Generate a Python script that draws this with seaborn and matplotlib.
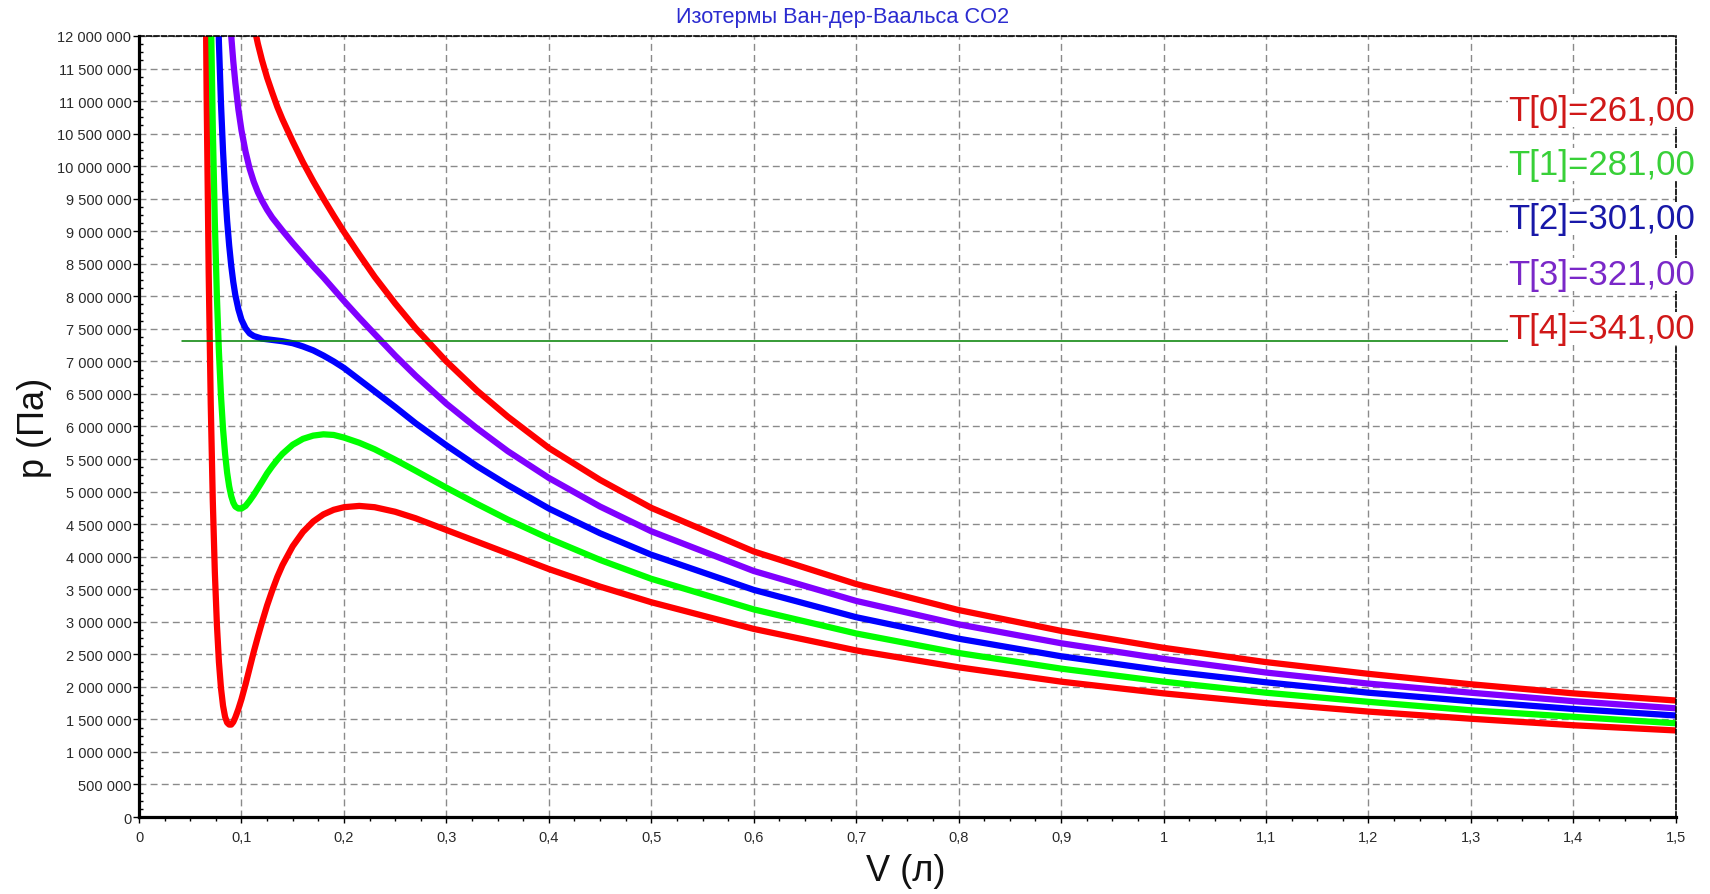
import numpy as np
import pandas as pd
import matplotlib
matplotlib.use('Agg')
import matplotlib.pyplot as plt
from matplotlib.ticker import MultipleLocator, FuncFormatter
import seaborn as sns

nan = np.nan

# объём, л
volume = [0.062, 0.064, 0.066, 0.068, 0.070, 0.072, 0.074, 0.076, 0.078, 0.080,
          0.082, 0.084, 0.086, 0.088, 0.090, 0.092, 0.094, 0.097, 0.100, 0.104,
          0.108, 0.112, 0.116, 0.120, 0.125, 0.130, 0.135, 0.140, 0.150, 0.160,
          0.170, 0.180, 0.190, 0.200, 0.215, 0.230, 0.250, 0.270, 0.300, 0.330,
          0.360, 0.400, 0.450, 0.500, 0.600, 0.700, 0.800, 0.900, 1.000, 1.100,
          1.200, 1.300, 1.400, 1.500]

# давление, МПа
p_261 = [nan, 14.78, 11.08, 8.36, 6.35, 4.86, 3.76, 2.96, 2.38, 1.98,
         1.71, 1.54, 1.45, 1.42, 1.42, 1.46, 1.53, 1.66, 1.81, 2.04,
         2.29, 2.54, 2.77, 2.99, 3.25, 3.48, 3.69, 3.87, 4.16, 4.38,
         4.54, 4.65, 4.72, 4.76, 4.78, 4.76, 4.69, 4.59, 4.41, 4.23,
         4.05, 3.81, 3.54, 3.30, 2.89, 2.56, 2.30, 2.08, 1.90, 1.75,
         1.62, 1.51, 1.41, 1.33]
p_281 = [nan, nan, nan, 15.01, 12.51, 10.59, 9.13, 8.00, 7.14, 6.47,
         5.96, 5.58, 5.29, 5.08, 4.93, 4.83, 4.77, 4.74, 4.74, 4.78,
         4.86, 4.95, 5.05, 5.15, 5.28, 5.39, 5.49, 5.58, 5.72, 5.81,
         5.86, 5.88, 5.87, 5.83, 5.75, 5.65, 5.49, 5.32, 5.06, 4.81,
         4.57, 4.28, 3.95, 3.66, 3.19, 2.82, 2.52, 2.28, 2.08, 1.91,
         1.77, 1.64, 1.54, 1.44]
p_301 = [nan, nan, nan, nan, nan, nan, 14.49, 13.04, 11.89, 10.96,
         10.23, 9.63, 9.16, 8.78, 8.47, 8.22, 8.02, 7.80, 7.64, 7.51,
         7.43, 7.39, 7.37, 7.35, 7.34, 7.33, 7.32, 7.31, 7.28, 7.23,
         7.17, 7.09, 7.00, 6.90, 6.72, 6.54, 6.30, 6.05, 5.71, 5.39,
         5.10, 4.74, 4.36, 4.03, 3.49, 3.07, 2.74, 2.47, 2.25, 2.07,
         1.91, 1.78, 1.66, 1.56]
p_321 = [nan, nan, nan, nan, nan, nan, nan, nan, nan, nan,
         nan, 13.69, 13.03, 12.47, 12.00, 11.61, 11.28, 10.87, 10.55, 10.22,
         9.96, 9.76, 9.60, 9.47, 9.33, 9.21, 9.11, 9.01, 8.82, 8.64,
         8.46, 8.29, 8.11, 7.93, 7.67, 7.42, 7.09, 6.78, 6.35, 5.97,
         5.62, 5.21, 4.77, 4.39, 3.78, 3.32, 2.96, 2.67, 2.43, 2.22,
         2.05, 1.91, 1.78, 1.67]
p_341 = [nan, nan, nan, nan, nan, nan, nan, nan, nan, nan,
         nan, nan, nan, nan, nan, nan, nan, nan, nan, 12.94,
         12.52, 12.17, 11.88, 11.63, 11.36, 11.13, 10.91, 10.72, 10.38, 10.06,
         9.77, 9.50, 9.24, 8.99, 8.64, 8.30, 7.89, 7.51, 7.00, 6.55,
         6.15, 5.67, 5.18, 4.75, 4.08, 3.58, 3.18, 2.86, 2.60, 2.38,
         2.20, 2.04, 1.90, 1.79]

labels = ['T[0]=261,00', 'T[1]=281,00', 'T[2]=301,00', 'T[3]=321,00', 'T[4]=341,00']
line_colors = ['#ff0000', '#00ff00', '#0000ff', '#8000ff', '#ff0000']
text_colors = ['#d01818', '#38d038', '#1818a8', '#7a28c8', '#d01818']

# горизонтальная линия
ref_p = 7.31
ref_v = [0.042, 1.336]

frames = []
for lab, p in zip(labels, [p_261, p_281, p_301, p_321, p_341]):
    frames.append(pd.DataFrame({'V': volume, 'p': np.array(p) * 1e6, 'T': lab}))
df = pd.concat(frames).dropna()

sns.set_style('white')
plt.rcParams['font.family'] = ['Liberation Sans', 'DejaVu Sans']

fig = plt.figure(figsize=(17.1, 8.95), dpi=100)
ax = fig.add_axes([0.0813, 0.086, 0.8987, 0.8727])

ax.grid(True, which='major', color='#8a8a8a', linestyle=(0, (5, 3)), linewidth=1.0)
ax.set_axisbelow(True)

sns.lineplot(data=df, x='V', y='p', hue='T', palette=dict(zip(labels, line_colors)),
             linewidth=4.5, estimator=None, sort=False, legend=False, ax=ax)

ax.plot(ref_v, [ref_p * 1e6] * 2, color='#008000', linewidth=1.1)

ax.set_xlim(0, 1.5)
ax.set_ylim(0, 12e6)
ax.xaxis.set_major_locator(MultipleLocator(0.1))
ax.xaxis.set_minor_locator(MultipleLocator(0.025))
ax.yaxis.set_major_locator(MultipleLocator(500000))
ax.yaxis.set_minor_locator(MultipleLocator(125000))
ax.xaxis.set_major_formatter(FuncFormatter(lambda v, pos: f'{v:.10g}'.replace('.', ',')))
ax.yaxis.set_major_formatter(FuncFormatter(lambda v, pos: f'{int(round(v)):,}'.replace(',', ' ')))

ax.tick_params(axis='both', which='major', labelsize=10.5, labelcolor='#2a2a2a',
               direction='out', length=4, width=1, color='black')
ax.tick_params(axis='y', which='major', pad=1.5)
ax.tick_params(axis='x', which='major', pad=5)
ax.tick_params(axis='x', which='minor', direction='out', length=3, width=1, color='black')
ax.tick_params(axis='y', which='minor', direction='in', length=3, width=1, color='black')
ax.tick_params(left=True, bottom=True, which='both')

for side in ['left', 'bottom']:
    ax.spines[side].set_linewidth(2.3)
    ax.spines[side].set_color('black')
for side in ['top', 'right']:
    ax.spines[side].set_linewidth(1.2)
    ax.spines[side].set_linestyle((0, (3, 1.5)))
    ax.spines[side].set_color('black')

ax.set_xlabel('V (л)', fontsize=26, color='#111111')
ax.set_ylabel('p (Па)', fontsize=26, color='#111111')
ax.xaxis.set_label_coords(0.499, -0.046)
ax.yaxis.set_label_coords(-0.0566, 0.5)

fig.text(0.493, 0.980, 'Изотермы Ван-дер-Ваальса CO2', color='#2b2bd0',
         fontsize=15.7, ha='center', va='center')

legend_y = [0.904, 0.836, 0.766, 0.695, 0.625]
for lab, col, yy in zip(labels, text_colors, legend_y):
    ax.text(0.8907, yy, lab, transform=ax.transAxes, color=col, fontsize=25,
            ha='left', va='center',
            bbox=dict(facecolor='white', edgecolor='none', pad=0))

fig.savefig('out.png', dpi=100)
